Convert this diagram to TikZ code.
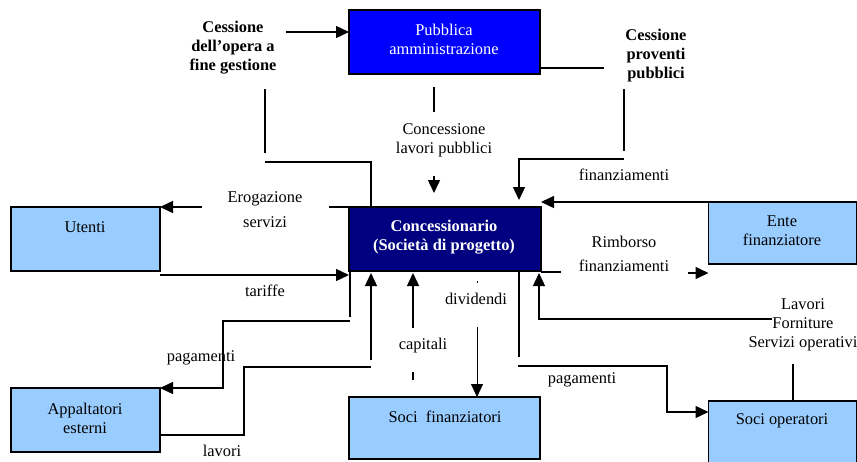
\documentclass[tikz,border=0pt]{standalone}
\usepackage{fontspec}
\setmainfont{Liberation Serif}
\usetikzlibrary{arrows.meta}
\definecolor{pablue}{RGB}{0,0,255}
\definecolor{concnavy}{RGB}{0,0,128}
\definecolor{lightbox}{RGB}{153,204,255}
\begin{document}
\begin{tikzpicture}[x=1pt,y=-1pt,
  box/.style={draw=black, line width=1.3pt, anchor=north west, inner sep=0pt, outer sep=0pt},
  lbl/.style={font=\fontsize{16.4}{19}\selectfont, align=center, inner sep=0pt, text=black},
  blbl/.style={lbl, font=\fontsize{16.4}{19}\selectfont\bfseries},
  ln/.style={line width=1.4pt},
  arr/.style={line width=1.4pt, -{Triangle[length=13pt,width=12pt]}},
  thinarr/.style={line width=0.8pt, -{Triangle[length=13pt,width=12pt]}}
]
\useasboundingbox (0,0) rectangle (857,461);

% boxes
\node[box, fill=pablue, minimum width=191pt, minimum height=64pt] (pa) at (349,10) {};
\node[box, fill=concnavy, minimum width=192pt, minimum height=64pt] (conc) at (349,207) {};
\node[box, fill=lightbox, minimum width=149pt, minimum height=64pt] (ut) at (11,207) {};
\node[box, fill=lightbox, minimum width=148pt, minimum height=62pt] (ente) at (708.5,202) {};
\node[box, fill=lightbox, minimum width=149pt, minimum height=64pt] (app) at (11,388) {};
\node[box, fill=lightbox, minimum width=191pt, minimum height=62pt] (sf) at (349,397) {};
\node[box, fill=lightbox, minimum width=148pt, minimum height=66pt] (so) at (708.5,401) {};

% box texts
\node[lbl, text=white] (patxt) at (444,39) {Pubblica\\amministrazione};
\node[blbl, text=white] (conctxt) at (444,237) {Concessionario\\(Società di progetto)};
\node[lbl] (uttxt) at (85,227) {Utenti};
\node[lbl] (entetxt) at (782,231) {Ente\\finanziatore};
\node[lbl] (apptxt) at (85,418) {Appaltatori\\esterni};
\node[lbl] (sftxt) at (445,417) {Soci~ finanziatori};
\node[lbl] (sotxt) at (782,421) {Soci operatori};

% labels
\node[blbl] (l1) at (233,48) {Cessione\\dell’opera a\\fine gestione};
\node[lbl] (l2) at (444,140) {Concessione\\lavori pubblici};
\node[blbl] (l3) at (656,56) {Cessione\\proventi\\pubblici};
\node[lbl] (l4) at (624,175) {finanziamenti};
\node[lbl] (l5) at (265,210) {Erogazione\\[6pt]servizi};
\node[lbl] (l6) at (265,291) {tariffe};
\node[lbl] (l7) at (624,254) {Rimborso\\[5pt]finanziamenti};
\node[lbl] (l8) at (803,325) {Lavori\\Forniture\\Servizi operativi};
\node[lbl] (l9) at (201,358) {pagamenti};
\node[lbl] (l10) at (222,451) {lavori};
\node[lbl] (l11) at (423,346) {capitali};
\node[lbl] (l12) at (476,299) {dividendi};
\node[lbl] (l13) at (582,380) {pagamenti};

% 1 Cessione dell'opera a fine gestione
\coordinate (c1a) at (371,162);
\coordinate (c1b) at (265,153);
\coordinate (c1c) at (265,89);
\coordinate (c1d) at (286,32);
\draw[ln] (conc.north -| c1a) -- (c1a) -- (c1a -| c1b);
\draw[ln] (c1b) -- (c1c);
\draw[arr] (c1d) -- (c1d -| pa.west);

% 2 Concessione lavori pubblici
\coordinate (c2a) at (434,87);
\coordinate (c2b) at (434,112);
\coordinate (c2c) at (434,176);
\coordinate (c2d) at (434,193);
\draw[ln] (c2a) -- (c2b);
\draw[arr] (c2c) -- (c2d);

% 3 Cessione proventi pubblici / finanziamenti
\coordinate (c3a) at (604,68);
\coordinate (c3b) at (624,89);
\coordinate (c3c) at (624,151);
\coordinate (c3d) at (624,159);
\coordinate (c3e) at (519,159);
\coordinate (c3f) at (519,200);
\draw[ln] (pa.east |- c3a) -- (c3a);
\draw[ln] (c3b) -- (c3c);
\draw[arr] (c3d) -- (c3e) -- (c3f);

% 4 Ente finanziatore -> Concessionario
\draw[arr] (ente.north west) -- (ente.north west -| conc.east);

% 5 Rimborso finanziamenti
\coordinate (c5a) at (561,272);
\coordinate (c5b) at (688,273);
\draw[ln] (conc.east |- c5a) -- (c5a);
\draw[arr] (c5b) -- (c5b -| ente.west);

% 6 Lavori Forniture Servizi operativi
\coordinate (c6a) at (793,364);
\coordinate (c6b) at (772,319);
\coordinate (c6c) at (539,319);
\coordinate (c6d) at (539,273);
\draw[ln] (so.north -| c6a) -- (c6a);
\draw[arr] (c6b) -- (c6c) -- (c6d);

% 7 Erogazione servizi
\coordinate (c7a) at (329,207);
\coordinate (c7b) at (202,207);
\draw[ln] (conc.north west) -- (c7a);
\draw[arr] (c7b) -- (ut.north east);

% 8 tariffe
\coordinate (c8a) at (160,275);
\draw[arr] (c8a) -- (c8a -| conc.west);

% 9 pagamenti (Appaltatori)
\coordinate (c9a) at (350,317);
\coordinate (c9b) at (350,321);
\coordinate (c9c) at (223,321);
\coordinate (c9d) at (223,388);
\draw[ln] (conc.south -| c9a) -- (c9a);
\draw[arr] (c9b) -- (c9c) -- (c9d) -- (app.north east);

% 10 lavori
\coordinate (c10a) at (244,435);
\coordinate (c10b) at (244,367);
\coordinate (c10c) at (371,367);
\coordinate (c10d) at (371,360);
\coordinate (c10e) at (371,273);
\draw[ln] (app.east |- c10a) -- (c10a) -- (c10b) -- (c10c);
\draw[arr] (c10d) -- (c10e);

% 11 capitali
\coordinate (c11a) at (413,380);
\coordinate (c11b) at (413,372);
\coordinate (c11c) at (413,328);
\coordinate (c11d) at (413,273);
\draw[ln] (c11a) -- (c11b);
\draw[arr] (c11c) -- (c11d);

% 12 dividendi
\coordinate (c12a) at (477,281);
\coordinate (c12b) at (477,283);
\coordinate (c12c) at (477,327);
\draw[line width=0.6pt] (c12a) -- (c12b);
\draw[thinarr] (c12c) -- (c12c |- sf.north);

% 13 pagamenti (Soci operatori)
\coordinate (c13a) at (519,357);
\coordinate (c13b) at (518,366);
\coordinate (c13c) at (667,366);
\coordinate (c13d) at (667,412);
\draw[ln] (conc.south -| c13a) -- (c13a);
\draw[arr] (c13b) -- (c13c) -- (c13d) -- (c13d -| so.west);
\end{tikzpicture}
\end{document}
